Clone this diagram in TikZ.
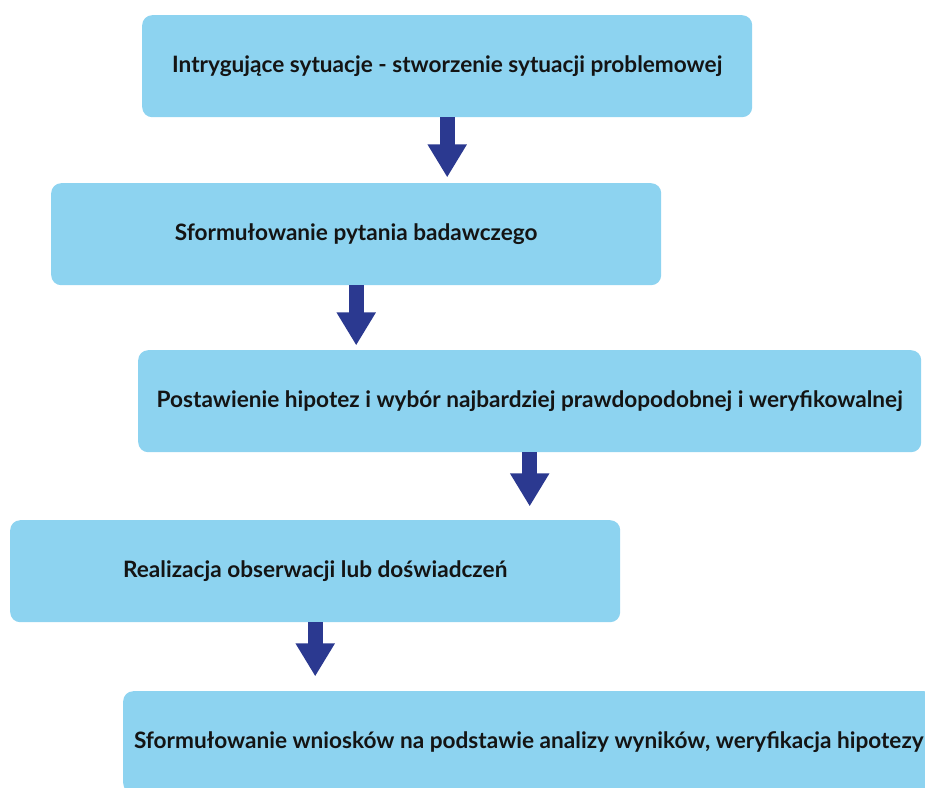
\documentclass[tikz,border=0pt]{standalone}
\usepackage{fontspec}
\setmainfont{Lato}
\usetikzlibrary{arrows.meta}
\definecolor{boxfill}{HTML}{8DD3F0}
\definecolor{arrowblue}{HTML}{2B3990}
\definecolor{textdark}{HTML}{141414}
\begin{document}
\begin{tikzpicture}[x=1pt,y=-1pt,
  stepbox/.style={fill=boxfill, draw=none, rounded corners=10pt, inner sep=0pt,
    minimum height=102pt, anchor=north west, text=textdark,
    font=\fontsize{22.6}{26}\selectfont\bfseries},
  blockarrow/.style={draw=arrowblue, line width=15pt,
    -{Triangle[width=37pt,length=33pt]}}]
\useasboundingbox (0,0) rectangle (925,787);

\node[stepbox, minimum width=610pt] (s1) at (142,15)
  {Intrygujące sytuacje - stworzenie sytuacji problemowej};
\node[stepbox, minimum width=610pt] (s2) at (51,183)
  {Sformułowanie pytania badawczego};
\node[stepbox, minimum width=783pt] (s3) at (138,350)
  {Postawienie hipotez i wybór najbardziej prawdopodobnej i weryfikowalnej};
\node[stepbox, minimum width=610pt] (s4) at (10,520)
  {Realizacja obserwacji lub doświadczeń};
\node[stepbox, minimum width=811pt] (s5) at (123,691)
  {Sformułowanie wniosków na podstawie analizy wyników, weryfikacja hipotezy};

% arrow tips stop just above the next box
\coordinate (t1) at ([yshift=-60pt]s1.south);
\coordinate (t2) at ([yshift=-60pt]s2.south);
\coordinate (t3) at ([yshift=-54pt]s3.south);
\coordinate (t4) at ([yshift=-54pt]s4.south);

\draw[blockarrow] (s1.south) -- (t1);
\draw[blockarrow] (s2.south) -- (t2);
\draw[blockarrow] (s3.south) -- (t3);
\draw[blockarrow] (s4.south) -- (t4);
\end{tikzpicture}
\end{document}
